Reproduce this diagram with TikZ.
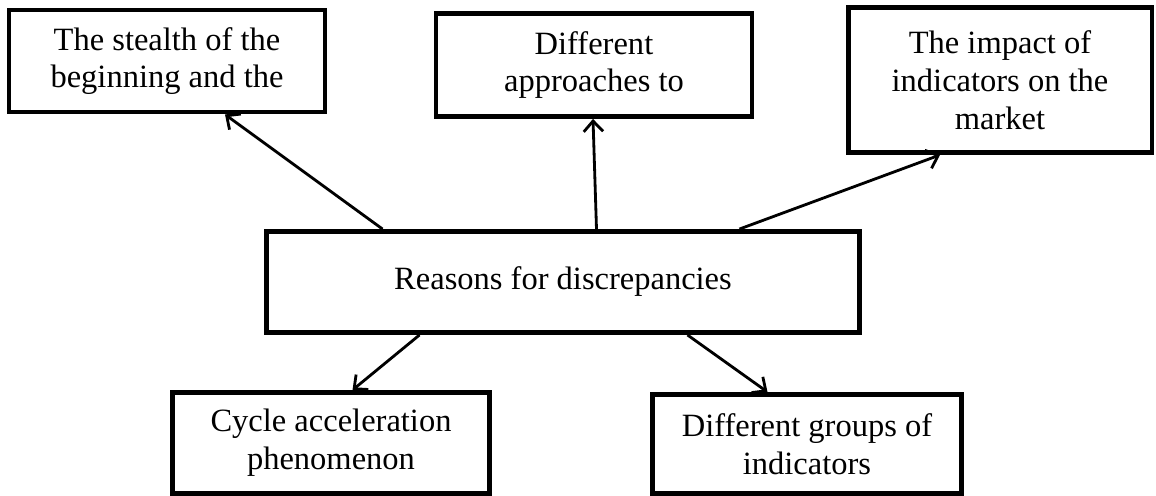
\documentclass[tikz,border=0pt]{standalone}
\usepackage{fontspec}
\setmainfont{Liberation Serif}
\usepackage{tikz}
\usetikzlibrary{arrows,arrows.meta,positioning,calc}

\begin{document}
\begin{tikzpicture}[x = 0.02cm, y = -0.02cm,
    box/.style = {draw, line width = 2.8pt, align = center, inner sep = 0pt,
                  font = \fontsize{18.5}{21.5}\selectfont},
    link/.style = {-{Straight Barb[length = 6pt, width = 11pt]}, line width = 1.6pt}]
      \useasboundingbox (0, 0) rectangle (1156, 496);

      \node[box, minimum width = 6.32cm, minimum height = 2.04cm] at ( 167,  61) (stealth)  {The stealth of the\\beginning and the};
      \node[box, minimum width = 6.32cm, minimum height = 2.06cm] at ( 594,  65) (approach) {Different\\approaches to};
      \node[box, minimum width = 6.08cm, minimum height = 2.90cm] at (1000,  80) (impact)   {The impact of\\indicators on the\\market};
      \node[box, minimum width = 11.86cm, minimum height = 2.02cm] at ( 563, 282) (reasons) {Reasons for discrepancies};
      \node[box, minimum width = 6.34cm, minimum height = 2.02cm] at ( 331, 443) (cycle)    {Cycle acceleration\\phenomenon};
      \node[box, minimum width = 6.18cm, minimum height = 1.98cm] at ( 807, 444) (groups)   {Different groups of\\indicators};

      \draw[link] ([xshift = -3.61cm]reasons.north) -- ([xshift = 1.16cm]stealth.south);
      \draw[link] ([xshift = 0.67cm]reasons.north) -- ([xshift = -0.02cm]approach.south);
      \draw[link] ([xshift = 3.53cm]reasons.north) -- ([xshift = -1.2cm]impact.south);
      \draw[link] ([xshift = -2.87cm]reasons.south) -- ([xshift = 0.43cm]cycle.north);
      \draw[link] ([xshift = 2.49cm]reasons.south) -- ([xshift = -0.79cm]groups.north);
    \end{tikzpicture}
\end{document}
